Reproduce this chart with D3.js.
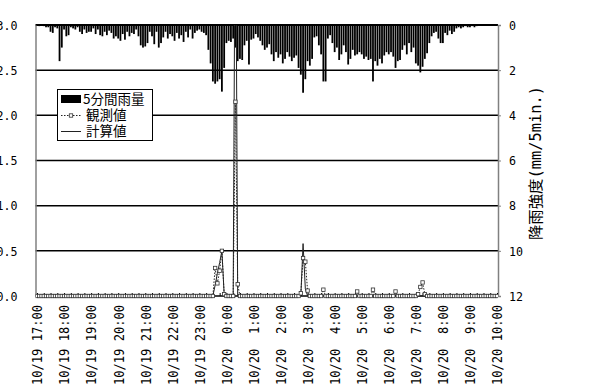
<!DOCTYPE html>
<html><head><meta charset="utf-8">
<script src="https://cdn.jsdelivr.net/npm/d3@7"></script>
<style>html,body{margin:0;padding:0;background:#fff;} svg{display:block;}</style>
</head><body>
<svg id="chart" width="612" height="390"></svg>
<script>
// 5-minute rainfall (mm/5min), one line per hour starting 10/19 17:00
const rainfall = [
  0, 0.05, 0, 0.05, 0.1, 0.1, 0.3, 0.35, 0.1, 0.15, 1.6, 1.0,
  0.2, 0.5, 0.45, 0.1, 0.15, 0.2, 0.1, 0.3, 0.4, 0.2, 0.35, 0.3,
  0.3, 0.15, 0.4, 0.2, 0.45, 0.5, 0.3, 0.45, 0.25, 0.35, 0.6, 0.5,
  0.6, 0.7, 0.4, 0.65, 0.3, 0.5, 0.35, 0.4, 0.2, 0.5, 0.9, 1.0,
  0.95, 0.8, 0.3, 0.5, 0.85, 0.3, 1.0, 0.8, 0.55, 0.3, 0.6, 0.4,
  0.5, 0.7, 0.35, 0.6, 0.45, 0.75, 0.3, 0.55, 0.2, 0.6, 0.35, 0.25,
  0.2, 0.3, 0.35, 0.45, 1.1, 1.7, 2.5, 2.6, 2.5, 2.4, 2.95, 1.9,
  0.8, 0.7, 0.75, 0.6, 1.0, 1.6, 1.5, 1.55, 0.9, 0.7, 1.75, 0.65,
  0.6, 0.4, 0.55, 0.7, 0.9, 1.1, 1.0, 0.85, 1.3, 1.6, 1.2, 1.45,
  1.3, 1.7, 1.5, 1.2, 1.4, 1.6, 1.45, 1.35, 1.9, 2.2, 3.0, 2.4,
  1.6, 1.8, 1.5, 0.55, 0.5, 0.9, 1.3, 2.5, 2.5, 0.6, 0.45, 0.8,
  1.2, 1.0, 1.55, 1.3, 0.9, 1.2, 1.75, 1.5, 1.1, 1.35, 1.3, 1.2,
  1.3, 1.5, 1.4, 1.55, 1.5, 2.5, 1.6, 1.8, 1.5, 1.7, 1.35, 1.2,
  1.3, 1.2, 1.4, 1.9, 1.6, 1.55, 1.1, 0.9, 1.3, 0.8, 1.2, 1.0,
  1.7, 1.8, 2.1, 1.85, 1.5, 1.25, 0.8, 0.5, 0.35, 0.3, 0.6, 0.8,
  0.8, 0.35, 0.45, 0.25, 0.4, 0.3, 0.15, 0.1, 0.15, 0.1, 0.05, 0.1,
  0.1, 0.05, 0.1, 0.05, 0, 0, 0, 0, 0, 0, 0, 0,
  0
];

// observed values, same 5-minute steps
const observed = [
  0, 0, 0, 0, 0, 0, 0, 0, 0, 0, 0, 0,
  0, 0, 0, 0, 0, 0, 0, 0, 0, 0, 0, 0,
  0, 0, 0, 0, 0, 0, 0, 0, 0, 0, 0, 0,
  0, 0, 0, 0, 0, 0, 0, 0, 0, 0, 0, 0,
  0, 0, 0, 0, 0, 0, 0, 0, 0, 0, 0, 0,
  0, 0, 0, 0, 0, 0, 0, 0, 0, 0, 0, 0,
  0, 0, 0, 0, 0, 0, 0, 0.31, 0.14, 0.28, 0.5, 0.02,
  0, 0, 0, 0, 2.15, 0.13, 0, 0, 0, 0, 0, 0,
  0, 0, 0, 0, 0, 0, 0, 0, 0, 0, 0, 0,
  0, 0, 0, 0, 0, 0, 0, 0, 0, 0.03, 0.42, 0.38,
  0.06, 0, 0, 0, 0, 0, 0, 0.07, 0, 0, 0, 0,
  0, 0, 0, 0, 0, 0, 0, 0, 0, 0, 0.05, 0,
  0, 0, 0, 0, 0, 0.07, 0, 0, 0, 0, 0, 0,
  0, 0, 0, 0.05, 0, 0, 0, 0, 0, 0, 0, 0,
  0, 0.02, 0.1, 0.15, 0.02, 0, 0, 0, 0, 0, 0, 0,
  0, 0, 0, 0, 0, 0, 0, 0, 0, 0, 0, 0,
  0, 0, 0, 0, 0, 0, 0, 0, 0, 0, 0, 0,
  0
];

// computed values, same 5-minute steps
const computed = [
  0, 0, 0, 0, 0, 0, 0, 0, 0, 0, 0, 0,
  0, 0, 0, 0, 0, 0, 0, 0, 0, 0, 0, 0,
  0, 0, 0, 0, 0, 0, 0, 0, 0, 0, 0, 0,
  0, 0, 0, 0, 0, 0, 0, 0, 0, 0, 0, 0,
  0, 0, 0, 0, 0, 0, 0, 0, 0, 0, 0, 0,
  0, 0, 0, 0, 0, 0, 0, 0, 0, 0, 0, 0,
  0, 0, 0, 0, 0, 0, 0, 0.12, 0.25, 0.37, 0.5, 0.02,
  0, 0, 0, 0, 5.0, 0, 0, 0, 0, 0, 0, 0,
  0, 0, 0, 0, 0, 0, 0, 0, 0, 0, 0, 0,
  0, 0, 0, 0, 0, 0, 0, 0, 0, 0, 0.58, 0.08,
  0, 0, 0, 0, 0, 0, 0, 0, 0, 0, 0, 0,
  0, 0, 0, 0, 0, 0, 0, 0, 0, 0, 0, 0,
  0, 0, 0, 0, 0, 0, 0, 0, 0, 0, 0, 0,
  0, 0, 0, 0, 0, 0, 0, 0, 0, 0, 0, 0,
  0, 0, 0, 0, 0, 0, 0, 0, 0, 0, 0, 0,
  0, 0, 0, 0, 0, 0, 0, 0, 0, 0, 0, 0,
  0, 0, 0, 0, 0, 0, 0, 0, 0, 0, 0, 0,
  0
];

const timeLabels = [
  "10/19 17:00", "10/19 18:00", "10/19 19:00", "10/19 20:00", "10/19 21:00",
  "10/19 22:00", "10/19 23:00", "10/20  0:00", "10/20  1:00", "10/20  2:00",
  "10/20  3:00", "10/20  4:00", "10/20  5:00", "10/20  6:00", "10/20  7:00",
  "10/20  8:00", "10/20  9:00", "10/20 10:00"
];
const leftTicks = [0, 0.5, 1, 1.5, 2, 2.5, 3];
const rightTicks = [0, 2, 4, 6, 8, 10, 12];
const legendLabels = ["5分間雨量", "観測値", "計算値"];
const rightTitle = "降雨強度(mm/5min.)";

const svg = d3.select("#chart");
const plotTop = 25, plotBottom = 296, plotLeft = 35.5, plotRight = 498;
const monoFont = "'DejaVu Sans Mono', 'Liberation Mono', monospace";
const cjkFont = "'DejaVu Sans Mono', 'Noto Sans CJK JP', sans-serif";

const n = rainfall.length;
const x = d3.scaleLinear().domain([0, n - 1]).range([37, 497]);
const yL = d3.scaleLinear().domain([0, 3]).range([plotBottom, plotTop]);
const yR = d3.scaleLinear().domain([0, 12]).range([plotTop, plotBottom]);

// horizontal grid lines
svg.append("g").selectAll("line")
  .data(leftTicks.filter(d => d > 0 && d < 3))
  .join("line")
  .attr("x1", plotLeft).attr("x2", plotRight)
  .attr("y1", d => yL(d)).attr("y2", d => yL(d))
  .attr("stroke", "#000").attr("stroke-width", 1.5);

// rainfall bars hanging from the top
svg.append("g").selectAll("rect")
  .data(rainfall)
  .join("rect")
  .attr("x", (d, i) => x(i) - 0.9)
  .attr("width", 1.8)
  .attr("y", yR(0))
  .attr("height", d => yR(d) - yR(0))
  .attr("fill", "#000");

// top frame line
svg.append("line")
  .attr("x1", plotLeft).attr("x2", plotRight).attr("y1", plotTop).attr("y2", plotTop)
  .attr("stroke", "#000").attr("stroke-width", 1.8);

// left axis
const gL = svg.append("g").attr("transform", `translate(${plotLeft},0)`)
  .call(d3.axisLeft(yL).tickValues(leftTicks).tickFormat(d3.format(".1f"))
    .tickSize(0).tickPadding(18));
gL.select(".domain").attr("stroke", "#808080").attr("stroke-width", 1.5);
gL.selectAll("text")
  .attr("font-family", monoFont).attr("font-size", 13).attr("fill", "#000")
  .attr("textLength", 21).attr("lengthAdjust", "spacingAndGlyphs");

// right axis
const gR = svg.append("g").attr("transform", `translate(${plotRight},0)`)
  .call(d3.axisRight(yR).tickValues(rightTicks).tickSize(3).tickPadding(8));
gR.select(".domain").attr("stroke", "#808080").attr("stroke-width", 1.5);
gR.selectAll(".tick line").attr("stroke", "#808080");
gR.selectAll("text")
  .attr("font-family", monoFont).attr("font-size", 13).attr("fill", "#000")
  .attr("textLength", d => d >= 10 ? 14 : 7).attr("lengthAdjust", "spacingAndGlyphs");

// bottom axis: small inward ticks every 15 minutes
const minorIdx = d3.range(0, n, 3);
const gB = svg.append("g").attr("transform", `translate(0,${plotBottom})`)
  .call(d3.axisBottom(x).tickValues(minorIdx).tickFormat("").tickSizeInner(-3).tickSizeOuter(0));
gB.select(".domain").attr("stroke", "#000").attr("stroke-width", 1.5)
  .attr("d", `M${plotLeft},0H${plotRight}`);
gB.selectAll(".tick line").attr("stroke", "#000");

// bottom axis labels, rotated
const labelIdx = timeLabels.map((d, k) => k * 12);
const gX = svg.append("g").attr("transform", `translate(0,${plotBottom})`)
  .call(d3.axisBottom(x).tickValues(labelIdx).tickFormat((d, k) => timeLabels[k])
    .tickSize(0).tickPadding(0));
gX.select(".domain").remove();
gX.selectAll("text")
  .attr("transform", "rotate(-90)")
  .attr("text-anchor", "end")
  .attr("x", -9).attr("y", 0).attr("dy", "0.36em")
  .style("white-space", "pre")
  .attr("font-family", monoFont).attr("font-size", 13.5).attr("fill", "#000")
  .attr("textLength", 80).attr("lengthAdjust", "spacingAndGlyphs");

// series lines, clipped to the plot area
svg.append("clipPath").attr("id", "plotClip")
  .append("rect").attr("x", plotLeft).attr("y", plotTop)
  .attr("width", plotRight - plotLeft).attr("height", plotBottom - plotTop + 4);
const plot = svg.append("g").attr("clip-path", "url(#plotClip)");

const lineL = d3.line().x((d, i) => x(i)).y(d => yL(d));

plot.append("path").datum(computed)
  .attr("d", lineL).attr("fill", "none")
  .attr("stroke", "#222").attr("stroke-width", 1);

plot.append("path").datum(observed)
  .attr("d", lineL).attr("fill", "none")
  .attr("stroke", "#222").attr("stroke-width", 1).attr("stroke-dasharray", "1.5,1.5");

plot.append("g").selectAll("rect")
  .data(observed)
  .join("rect")
  .attr("x", (d, i) => x(i) - 1.7).attr("y", d => yL(d) - 1.7)
  .attr("width", 3.4).attr("height", 3.4)
  .attr("fill", "#fff").attr("stroke", "#333").attr("stroke-width", 0.8);

// right axis title
svg.append("text")
  .attr("transform", "translate(536,163) rotate(-90)")
  .attr("text-anchor", "middle").attr("dy", "0.36em")
  .attr("font-family", cjkFont).attr("font-size", 15).attr("fill", "#000")
  .attr("textLength", 154).attr("lengthAdjust", "spacingAndGlyphs")
  .text(rightTitle);

// legend
const lg = svg.append("g");
lg.append("rect").attr("x", 57.5).attr("y", 89.5).attr("width", 95).attr("height", 51)
  .attr("fill", "#fff").attr("stroke", "#000").attr("stroke-width", 1);
const rowY = [99, 115.5, 131.5];
lg.append("rect").attr("x", 61).attr("y", rowY[0] - 4).attr("width", 20).attr("height", 8).attr("fill", "#000");
lg.append("line").attr("x1", 61).attr("x2", 81).attr("y1", rowY[1]).attr("y2", rowY[1])
  .attr("stroke", "#222").attr("stroke-width", 1).attr("stroke-dasharray", "1.5,1.5");
lg.append("rect").attr("x", 71 - 1.7).attr("y", rowY[1] - 1.7).attr("width", 3.4).attr("height", 3.4)
  .attr("fill", "#fff").attr("stroke", "#333").attr("stroke-width", 0.8);
lg.append("line").attr("x1", 61).attr("x2", 81).attr("y1", rowY[2]).attr("y2", rowY[2])
  .attr("stroke", "#222").attr("stroke-width", 1);
lg.selectAll("text.lab")
  .data(legendLabels)
  .join("text")
  .attr("class", "lab")
  .attr("x", (d, i) => i === 0 ? 83 : 86)
  .attr("y", (d, i) => rowY[i]).attr("dy", "0.36em")
  .attr("font-family", "'Noto Sans CJK JP', sans-serif").attr("font-size", 13.5).attr("fill", "#000")
  .text(d => d);
</script>
</body></html>
